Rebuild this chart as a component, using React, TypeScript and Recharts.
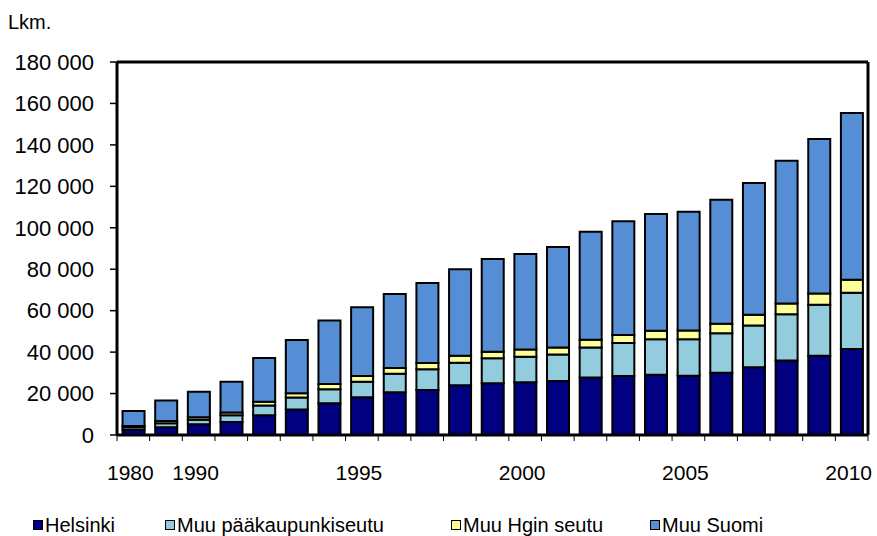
import { BarChart, Bar, XAxis, YAxis, CartesianGrid, ReferenceLine } from 'recharts'

const years = [
  '1980', '1985', '1990', '1991', '1992', '1993', '1994', '1995', '1996', '1997', '1998', '1999',
  '2000', '2001', '2002', '2003', '2004', '2005', '2006', '2007', '2008', '2009', '2010',
]
const helsinki = [
  2500, 3700, 5200, 6300, 9500, 12300, 15300, 18200, 20600, 21700, 24000, 25000,
  25500, 26100, 27700, 28500, 29100, 28600, 30100, 32700, 35900, 38200, 41500,
]
const muuPk = [
  1300, 2000, 2200, 3200, 4700, 5800, 6800, 7500, 8900, 10000, 10900, 12000,
  12300, 12700, 14500, 15900, 17100, 17600, 19000, 20100, 22400, 24600, 27200,
]
const muuHgin = [
  600, 1000, 1200, 1300, 1800, 2000, 2500, 2800, 2800, 3000, 3400, 3200,
  3500, 3400, 3800, 3900, 4100, 4200, 4600, 5200, 5200, 5500, 6200,
]
const muuSuomi = [
  7200, 9900, 12300, 14900, 21200, 25800, 30600, 33200, 35800, 38700, 41700, 44700,
  46000, 48500, 52100, 54900, 56300, 57300, 59800, 63600, 68900, 74500, 80500,
]
const yTicks = [0, 20000, 40000, 60000, 80000, 100000, 120000, 140000, 160000, 180000]
const shownYears = ['1980', '1990', '1995', '2000', '2005', '2010']

const series = [
  { key: 'helsinki', name: 'Helsinki', color: '#000080' },
  { key: 'muuPk', name: 'Muu pääkaupunkiseutu', color: '#93CDDD' },
  { key: 'muuHgin', name: 'Muu Hgin seutu', color: '#FFFF99' },
  { key: 'muuSuomi', name: 'Muu Suomi', color: '#558ED5' },
]
const legendLeft = [33, 165, 451, 650]

const data = years.map((year, i) => ({
  year,
  helsinki: helsinki[i],
  muuPk: muuPk[i],
  muuHgin: muuHgin[i],
  muuSuomi: muuSuomi[i],
}))

const FONT = '"Liberation Sans", Arial, sans-serif'
const TICK_SIZE = 6
const TICK_MARGIN = 24

const fmt = (v: number) => String(v).replace(/\B(?=(\d{3})+(?!\d))/g, ' ')

function YearTick(props: any) {
  const { x, y, payload, width, index } = props
  const half = width / years.length / 2
  const top = y - TICK_SIZE - TICK_MARGIN
  return (
    <g>
      <line x1={x - half} x2={x - half} y1={top} y2={top + TICK_SIZE} stroke="#000" strokeWidth={1} />
      {index === years.length - 1 && (
        <line x1={x + half} x2={x + half} y1={top} y2={top + TICK_SIZE} stroke="#000" strokeWidth={1} />
      )}
      {shownYears.includes(payload.value) && (
        <text x={x - 3} y={y} dy="0.71em" textAnchor="middle" fill="#000" fontSize={21} fontFamily={FONT}>
          {payload.value}
        </text>
      )}
    </g>
  )
}

export default function App() {
  return (
    <div style={{ position: 'absolute', left: 0, top: 0, width: 877, height: 536, background: '#fff', fontFamily: FONT }}>
      <div style={{ position: 'absolute', left: 8, top: 11, fontSize: 20, color: '#000' }}>Lkm.</div>
      <BarChart
        width={877}
        height={536}
        data={data}
        margin={{ top: 62, right: 8, bottom: 41, left: 0 }}
        barCategoryGap="17%"
      >
        <CartesianGrid vertical={false} stroke="#BFBFBF" strokeDasharray="2 2" />
        <XAxis
          dataKey="year"
          height={60}
          interval={0}
          tickLine={false}
          tickSize={TICK_SIZE}
          tickMargin={TICK_MARGIN}
          axisLine={{ stroke: '#000', strokeWidth: 3 }}
          tick={<YearTick />}
        />
        <YAxis
          yAxisId="left"
          width={117}
          domain={[0, 180000]}
          ticks={yTicks}
          interval={0}
          tickFormatter={fmt}
          tickSize={7}
          tickMargin={16}
          axisLine={{ stroke: '#000', strokeWidth: 3 }}
          tickLine={{ stroke: '#000', strokeWidth: 1.5 }}
          tick={{ fill: '#000', fontSize: 22, fontFamily: FONT }}
        />
        <YAxis
          yAxisId="right"
          orientation="right"
          width={1}
          domain={[0, 180000]}
          tick={false}
          tickLine={false}
          axisLine={{ stroke: '#000', strokeWidth: 3 }}
        />
        <ReferenceLine yAxisId="left" y={180000} stroke="#000" strokeWidth={3} />
        {series.map((s) => (
          <Bar
            key={s.key}
            yAxisId="left"
            dataKey={s.key}
            name={s.name}
            stackId="a"
            fill={s.color}
            stroke="#000"
            strokeWidth={2}
            isAnimationActive={false}
          />
        ))}
      </BarChart>
      {series.map((s, i) => (
        <div
          key={s.key}
          style={{
            position: 'absolute',
            top: 513,
            left: legendLeft[i],
            display: 'flex',
            alignItems: 'center',
            fontSize: 20,
            lineHeight: '24px',
            color: '#000',
            whiteSpace: 'nowrap',
          }}
        >
          <span
            style={{
              display: 'inline-block',
              width: 8,
              height: 8,
              background: s.color,
              border: '1.5px solid #000',
              marginRight: 2,
            }}
          />
          <span>{s.name}</span>
        </div>
      ))}
    </div>
  )
}
